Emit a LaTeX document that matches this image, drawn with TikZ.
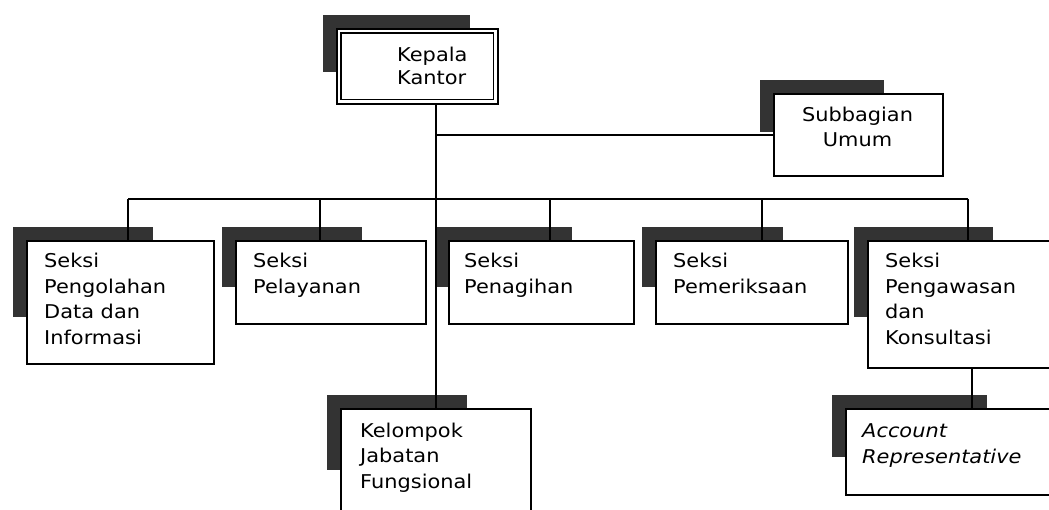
\documentclass[tikz,border=0pt]{standalone}
\usepackage{fontspec}
\setmainfont{DejaVu Sans}[FakeStretch=1.1]
\usetikzlibrary{calc}
\newcommand\orgbox[7]{%
  \fill[shadowbox] (#2-13,#3-13) rectangle (#2+#6,#3+#7);
  \node[box, minimum width=#4pt, minimum height=#5pt] (#1) at (#2,#3) {};
}
\newcommand\txl[1]{\begin{tabular}[t]{@{}l@{}}#1\end{tabular}}
\newcommand\txc[1]{\begin{tabular}[t]{@{}c@{}}#1\end{tabular}}
\renewcommand\arraystretch{1}
\begin{document}
\begin{tikzpicture}[x=1pt,y=-1pt,
  box/.style={draw=black, line width=1.6pt, fill=white, rectangle, inner sep=0pt, anchor=north west},
  shadowbox/.style={fill=black!80, draw=none},
  lbl/.style={anchor=base west, inner sep=0pt, font=\fontsize{19}{25.5}\selectfont},
  conn/.style={draw=black, line width=1.6pt}]
\useasboundingbox (0,0) rectangle (1049,510);
\clip (0,0) rectangle (1049,510);

% boxes with shadows
\orgbox{kepala}{336}{28}{161}{75}{134}{44}
\draw[line width=1.4pt] ($(kepala.north west)+(5,5)$) rectangle ($(kepala.south east)+(-5,-5)$);
\orgbox{subbagian}{773}{93}{169}{82}{111}{39}
\orgbox{pengolahan}{26}{240}{187}{123}{127}{77}
\orgbox{pelayanan}{235}{240}{190}{83}{127}{47}
\orgbox{penagihan}{448}{240}{185}{83}{124}{47}
\orgbox{pemeriksaan}{655}{240}{192}{83}{128}{47}
\orgbox{pengawasan}{867}{240}{200}{127}{126}{77}
\orgbox{kelompok}{340}{408}{190}{120}{127}{62}
\orgbox{account}{845}{408}{220}{86}{142}{49}

% texts
\node[lbl, font=\fontsize{19}{23}\selectfont] (kepala-t) at ($(kepala.north west)+(61,34)$) {\txl{Kepala\\Kantor}};
\node[lbl, anchor=base, font=\fontsize{19}{25}\selectfont] (subbagian-t) at ($(subbagian.north west)+(84.5,29)$) {\txc{Subbagian\\Umum}};
\node[lbl] (pengolahan-t) at ($(pengolahan.north west)+(18,28)$) {\txl{Seksi\\Pengolahan\\Data dan\\Informasi}};
\node[lbl] (pelayanan-t) at ($(pelayanan.north west)+(18,28)$) {\txl{Seksi\\Pelayanan}};
\node[lbl] (penagihan-t) at ($(penagihan.north west)+(16,28)$) {\txl{Seksi\\Penagihan}};
\node[lbl] (pemeriksaan-t) at ($(pemeriksaan.north west)+(18,28)$) {\txl{Seksi\\Pemeriksaan}};
\node[lbl] (pengawasan-t) at ($(pengawasan.north west)+(18,28)$) {\txl{Seksi\\Pengawasan\\dan\\Konsultasi}};
\node[lbl] (kelompok-t) at ($(kelompok.north west)+(20,29)$) {\txl{Kelompok\\Jabatan\\Fungsional}};
\node[lbl, font=\fontsize{19}{26}\selectfont\itshape] (account-t) at ($(account.north west)+(17,29)$) {\txl{Account\\Representative}};

% connectors
\coordinate (bL) at (128,199);
\coordinate (bR) at (968,199);
\coordinate (d2) at (320,199);
\coordinate (d4) at (550,199);
\coordinate (d5) at (762,199);
\coordinate (pa) at (972,367);
\draw[conn] (bL) -- (bR);
\draw[conn] (bL) -- (bL |- pengolahan.north);
\draw[conn] (d2) -- (d2 |- pelayanan.north);
\draw[conn] (d4) -- (d4 |- penagihan.north);
\draw[conn] (d5) -- (d5 |- pemeriksaan.north);
\draw[conn] (bR) -- (bR |- pengawasan.north);
\draw[conn] (kepala.south -| kelompok.north) -- (kelompok.north);
\draw[conn] (kelompok.north |- subbagian.west) -- (subbagian.west);
\draw[conn] (pa |- pengawasan.south) -- (pa |- account.north);
\end{tikzpicture}
\end{document}
